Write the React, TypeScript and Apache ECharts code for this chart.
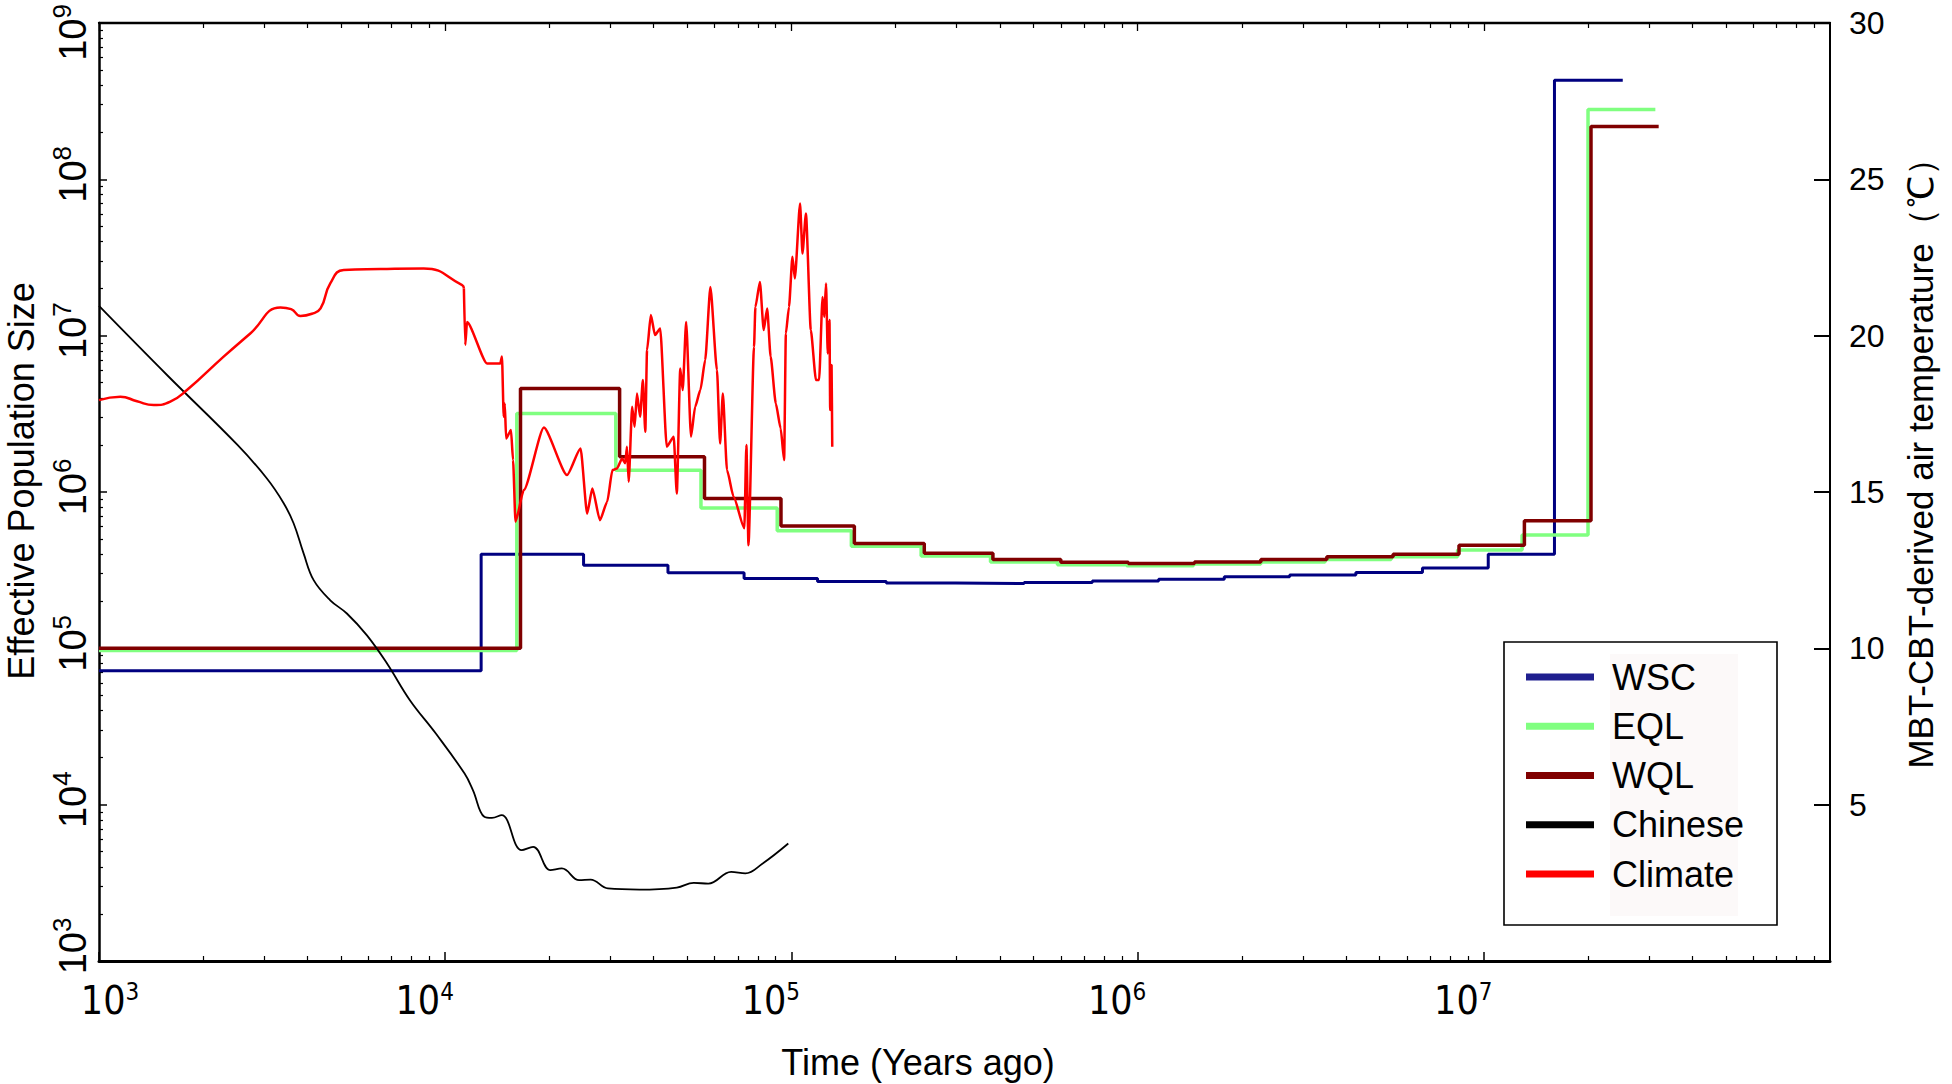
import React, { useEffect, useRef } from 'react';
import * as echarts from 'echarts';

const W = 1952;
const H = 1084;
const SANS = "'Liberation Sans', Arial, Helvetica, sans-serif";
const NARROW = "'Liberation Sans Narrow', 'Arial Narrow', 'DejaVu Sans Condensed', sans-serif";

// ---- step series (time in years ago, effective population size) ----
const wscTime = [1000, 12700, 25100, 44000, 73000, 119000, 188000, 298000, 470000, 740000, 1150000, 1780000, 2750000, 4270000, 6650000, 10300000, 16000000, 25200000];
const wscNe = [72000, 400000, 340000, 304000, 280000, 268000, 262000, 260000, 264000, 270000, 277000, 287000, 294000, 306000, 327000, 400000, 430000000, 430000000];

const eqlTime = [1000, 16100, 31100, 54800, 91000, 149000, 237000, 376000, 587000, 930000, 1450000, 2270000, 3480000, 5400000, 8400000, 12900000, 20000000, 31300000];
const eqlNe = [97000, 3180000, 1380000, 790000, 565000, 450000, 390000, 357000, 342000, 337000, 346000, 356000, 370000, 385000, 425000, 530000, 280000000, 280000000];

const wqlTime = [1000, 16500, 31900, 56100, 93300, 152000, 242000, 382000, 600000, 940000, 1460000, 2270000, 3520000, 5470000, 8480000, 13100000, 20400000, 32000000];
const wqlNe = [100000, 4600000, 1680000, 910000, 605000, 469000, 405000, 370000, 355000, 349000, 357000, 370000, 385000, 400000, 457000, 655000, 218000000, 218000000];

// ---- Chinese (smooth curve) ----
const chnTime = [1000, 1585, 2512, 3055, 3412, 3648, 3899, 4169, 4656, 5200, 5943, 6792, 7907, 9397, 11376, 12023, 12972, 13646, 14555, 16634, 17947, 20137, 21727, 24378, 26303, 29512, 36392, 46666, 52240, 57544, 66988, 73621, 82604, 97949];
const chnNe = [15500000, 5500000, 2000000, 1220000, 851000, 631000, 405000, 273000, 203000, 167000, 121000, 80000, 46600, 28500, 15800, 12400, 8356, 8222, 8570, 5117, 5370, 3811, 3908, 3289, 3319, 2911, 2864, 2951, 3162, 3126, 3715, 3631, 4207, 5649];

// ---- Climate (MBT-CBT temperature, right axis) ----
const climTime = [1000, 1153, 1288, 1439, 1607, 1795, 2291, 2735, 3342, 3589, 3819, 4121, 4365, 4656, 5093, 6501, 8670, 11194, 11324, 11429, 11561, 13213, 14421, 14588, 14757, 14859, 14997, 15488, 15704, 15959, 16866, 19275, 22491, 24604, 25704, 26607, 27990, 29376, 30409, 31333, 32434, 33113, 33497, 33884, 34674, 35237, 35810, 36559, 37239, 37844, 38282, 39264, 40365, 41783, 43652, 45709, 46666, 47753, 48529, 49659, 51286, 52723, 54576, 56364, 58345, 60954, 62230, 63387, 65163, 68077, 73114, 74131, 75162, 77983, 78705, 81096, 83176, 85114, 87096, 90157, 93111, 95280, 96383, 98401, 100693, 102329, 105925, 107647, 110154, 113763, 117761, 120226, 123027, 124451, 125893, 127350, 128825, 129420, 130617, 131220];
const climTemp = [17.94, 18.05, 17.9, 17.78, 17.89, 18.26, 19.33, 20.07, 20.9, 20.85, 20.63, 20.7, 20.87, 21.67, 22.1, 22.13, 22.15, 21.62, 21.51, 19.7, 20.44, 19.11, 19.11, 19.33, 17.41, 17.83, 16.71, 16.98, 16.02, 14.05, 15.06, 17.06, 15.54, 16.39, 14.31, 15.11, 14.1, 14.69, 15.7, 15.75, 16.07, 15.92, 16.45, 15.33, 17.73, 17.09, 18.15, 17.41, 18.58, 16.93, 19.54, 20.66, 20.02, 20.23, 16.45, 16.77, 14.95, 18.95, 18.26, 20.44, 16.77, 17.73, 18.26, 19.22, 21.56, 18.9, 16.55, 18.15, 15.7, 14.85, 13.84, 16.5, 13.3, 19.64, 20.92, 21.72, 20.18, 20.87, 19.33, 17.83, 17.03, 16.02, 20.07, 20.92, 22.52, 21.83, 24.23, 22.63, 23.91, 20.18, 18.58, 18.58, 21.24, 20.6, 21.67, 19.43, 20.5, 17.62, 19.06, 16.45];
const climSmoothEnd = 18; // index where the smooth early part ends

// ---- ticks ----
const xMajor = [1e3, 1e4, 1e5, 1e6, 1e7];
const yMajor = [1e3, 1e4, 1e5, 1e6, 1e7, 1e8, 1e9];
const legendNames = ['WSC', 'EQL', 'WQL', 'Chinese', 'Climate'];

function minorTicks(fromExp: number, toExp: number): number[] {
  const out: number[] = [];
  for (let e = fromExp; e < toExp; e++) {
    for (let m = 2; m <= 9; m++) out.push(m * Math.pow(10, e));
  }
  return out;
}
const xMinor = minorTicks(3, 8);
const yMinor = minorTicks(3, 9);

function zip(a: number[], b: number[]) {
  return a.map((v, i) => [v, b[i]]);
}

const expOf = (v: number) => Math.round(Math.log10(v));

export default function App() {
  const ref = useRef<HTMLDivElement>(null);

  useEffect(() => {
    document.body.style.margin = '0';
    if (!ref.current) return;
    const chart = echarts.init(ref.current, undefined, { renderer: 'svg' });

    const baseX: any = {
      type: 'log',
      logBase: 10,
      min: 1e3,
      max: 1e8,
      gridIndex: 0,
      splitLine: { show: false },
      minorTick: { show: false },
      minorSplitLine: { show: false },
    };
    const baseYLog: any = {
      type: 'log',
      logBase: 10,
      min: 1e3,
      max: 1e9,
      gridIndex: 0,
      splitLine: { show: false },
      minorTick: { show: false },
      minorSplitLine: { show: false },
    };

    const xFmt = (v: number) => {
      const e = expOf(v);
      if (e < 3 || e > 7) return '';
      return e === 3 ? `{b0|10}{s|${e}}` : `{b|10}{s1|${e}}`;
    };
    const yFmt = (v: number) => {
      const e = expOf(v);
      if (e < 3 || e > 9) return '';
      if (e === 9) return `{b|10}{s9|${e}}`;
      if (e === 3) return `{b3|10}{s|${e}}`;
      return `{bp|10}{s|${e}}`;
    };

    const option: any = {
      animation: false,
      backgroundColor: '#ffffff',
      textStyle: { fontFamily: SANS, color: '#000' },
      grid: {
        left: 99,
        right: 122,
        top: 23,
        bottom: 123,
        containLabel: false,
        outerBoundsMode: 'none',
      },
      legend: {
        show: true,
        orient: 'vertical',
        left: 1526,
        top: 657,
        padding: 0,
        itemWidth: 68,
        itemHeight: 7,
        itemGap: 9.25,
        icon: 'rect',
        selectedMode: false,
        z: 10,
        textStyle: {
          fontFamily: SANS,
          fontSize: 36,
          color: '#000',
          lineHeight: 40,
          padding: [0, 0, 0, 13],
        },
        data: legendNames,
      },
      xAxis: [
        {
          ...baseX,
          position: 'bottom',
          axisLine: { show: true, onZero: false, lineStyle: { color: '#000', width: 3 } },
          axisTick: { show: true, inside: true, length: 9, lineStyle: { color: '#000', width: 1.5 }, customValues: xMajor },
          axisLabel: {
            show: true,
            customValues: xMajor,
            margin: 19,
            formatter: xFmt,
            rich: {
              b: { fontFamily: NARROW, fontSize: 39, lineHeight: 40, color: '#000' },
              b0: { fontFamily: NARROW, fontSize: 39, lineHeight: 40, color: '#000', padding: [0, 0, 0, 22] },
              s: { fontFamily: NARROW, fontSize: 24, lineHeight: 26, color: '#000', verticalAlign: 'top' },
              s1: { fontFamily: NARROW, fontSize: 24, lineHeight: 26, color: '#000', verticalAlign: 'top', padding: [0, 41, 0, 0] },
            },
          },
        },
        {
          ...baseX,
          position: 'bottom',
          axisLine: { show: false, onZero: false },
          axisTick: { show: true, inside: true, length: 5, lineStyle: { color: '#000', width: 1.2 }, customValues: xMinor },
          axisLabel: { show: false },
        },
        {
          ...baseX,
          position: 'top',
          axisLine: { show: true, onZero: false, lineStyle: { color: '#000', width: 2.3 } },
          axisTick: { show: true, inside: true, length: 8, lineStyle: { color: '#000', width: 1.3 }, customValues: xMajor },
          axisLabel: { show: false },
        },
        {
          ...baseX,
          position: 'top',
          axisLine: { show: false, onZero: false },
          axisTick: { show: true, inside: true, length: 5, lineStyle: { color: '#000', width: 1.2 }, customValues: xMinor },
          axisLabel: { show: false },
        },
      ],
      yAxis: [
        {
          ...baseYLog,
          position: 'left',
          axisLine: { show: true, onZero: false, lineStyle: { color: '#000', width: 2.5 } },
          axisTick: { show: true, inside: true, length: 8, lineStyle: { color: '#000', width: 1.5 }, customValues: yMajor },
          axisLabel: {
            show: true,
            customValues: yMajor,
            rotate: 90,
            margin: 12,
            formatter: yFmt,
            rich: {
              b: { fontFamily: SANS, fontSize: 38, lineHeight: 38, color: '#000', padding: [9, 0, 0, 0] },
              bp: { fontFamily: SANS, fontSize: 38, lineHeight: 38, color: '#000', padding: [9, 0, 0, 10] },
              b3: { fontFamily: SANS, fontSize: 38, lineHeight: 38, color: '#000', padding: [9, 0, 0, 30] },
              s: { fontFamily: SANS, fontSize: 26, lineHeight: 26, color: '#000', verticalAlign: 'top' },
              s9: { fontFamily: SANS, fontSize: 26, lineHeight: 26, color: '#000', verticalAlign: 'top', padding: [0, 19, 0, 0] },
            },
          },
        },
        {
          type: 'value',
          min: 0,
          max: 30,
          interval: 5,
          position: 'right',
          gridIndex: 0,
          splitLine: { show: false },
          axisLine: { show: true, onZero: false, lineStyle: { color: '#000', width: 2 } },
          axisTick: { show: true, inside: true, length: 16, lineStyle: { color: '#000', width: 2 } },
          axisLabel: {
            show: true,
            margin: 19,
            fontFamily: SANS,
            fontSize: 32,
            color: '#000',
            showMinLabel: false,
            formatter: (v: number) => (v === 0 ? '' : String(v)),
          },
        },
        {
          ...baseYLog,
          position: 'left',
          axisLine: { show: false, onZero: false },
          axisTick: { show: true, inside: true, length: 4, lineStyle: { color: '#000', width: 1.2 }, customValues: yMinor },
          axisLabel: { show: false },
        },
      ],
      graphic: [
        {
          type: 'rect',
          z: 5,
          shape: { x: 1504, y: 642, width: 273, height: 283 },
          style: { fill: '#ffffff', stroke: '#000000', lineWidth: 1.6 },
        },
        {
          type: 'rect',
          z: 6,
          shape: { x: 1610, y: 654, width: 128, height: 262 },
          style: { fill: '#fcf9f9' },
        },
        {
          type: 'text',
          z: 6,
          x: 21,
          y: 481,
          rotation: Math.PI / 2,
          style: {
            text: 'Effective Population Size',
            fontFamily: SANS,
            fontSize: 36,
            fill: '#000',
            align: 'center',
            verticalAlign: 'middle',
            textAlign: 'center',
            textVerticalAlign: 'middle',
          },
        },
        {
          type: 'text',
          z: 6,
          x: 918,
          y: 1062,
          style: {
            text: 'Time (Years ago)',
            fontFamily: SANS,
            fontSize: 36,
            fill: '#000',
            align: 'center',
            verticalAlign: 'middle',
            textAlign: 'center',
            textVerticalAlign: 'middle',
          },
        },
        {
          type: 'text',
          z: 6,
          x: 1920,
          y: 455,
          rotation: Math.PI / 2,
          style: {
            text: 'MBT-CBT-derived air temperature（℃）',
            fontFamily: SANS,
            fontSize: 35,
            fill: '#000',
            align: 'center',
            verticalAlign: 'middle',
            textAlign: 'center',
            textVerticalAlign: 'middle',
          },
        },
      ],
      series: [
        {
          name: 'WSC',
          type: 'line',
          xAxisIndex: 0,
          yAxisIndex: 0,
          step: 'end',
          symbol: 'none',
          data: zip(wscTime, wscNe),
          lineStyle: { color: '#000080', width: 3 },
          itemStyle: { color: '#1f1f8f' },
          z: 2,
        },
        {
          name: 'EQL',
          type: 'line',
          xAxisIndex: 0,
          yAxisIndex: 0,
          step: 'end',
          symbol: 'none',
          data: zip(eqlTime, eqlNe),
          lineStyle: { color: '#80ff80', width: 3.5 },
          itemStyle: { color: '#80ff80' },
          z: 2,
        },
        {
          name: 'WQL',
          type: 'line',
          xAxisIndex: 0,
          yAxisIndex: 0,
          step: 'end',
          symbol: 'none',
          data: zip(wqlTime, wqlNe),
          lineStyle: { color: '#800000', width: 3.5 },
          itemStyle: { color: '#800000' },
          z: 2,
        },
        {
          name: 'Chinese',
          type: 'line',
          xAxisIndex: 0,
          yAxisIndex: 0,
          smooth: 0.4,
          symbol: 'none',
          data: zip(chnTime, chnNe),
          lineStyle: { color: '#000000', width: 1.8 },
          itemStyle: { color: '#000000' },
          z: 3,
        },
        {
          name: 'Climate',
          type: 'line',
          xAxisIndex: 0,
          yAxisIndex: 1,
          smooth: 0.5,
          symbol: 'none',
          data: zip(climTime, climTemp).slice(0, climSmoothEnd + 1),
          lineStyle: { color: '#ff0000', width: 2.5 },
          itemStyle: { color: '#ff0000' },
          z: 4,
        },
        {
          name: 'Climate',
          type: 'line',
          xAxisIndex: 0,
          yAxisIndex: 1,
          smooth: 0.2,
          smoothMonotone: 'x',
          symbol: 'none',
          data: zip(climTime, climTemp).slice(climSmoothEnd),
          lineStyle: { color: '#ff0000', width: 2.5 },
          itemStyle: { color: '#ff0000' },
          z: 4,
        },
      ],
    };

    chart.setOption(option);
    return () => {
      chart.dispose();
    };
  }, []);

  return <div ref={ref} style={{ width: W, height: H }} />;
}
